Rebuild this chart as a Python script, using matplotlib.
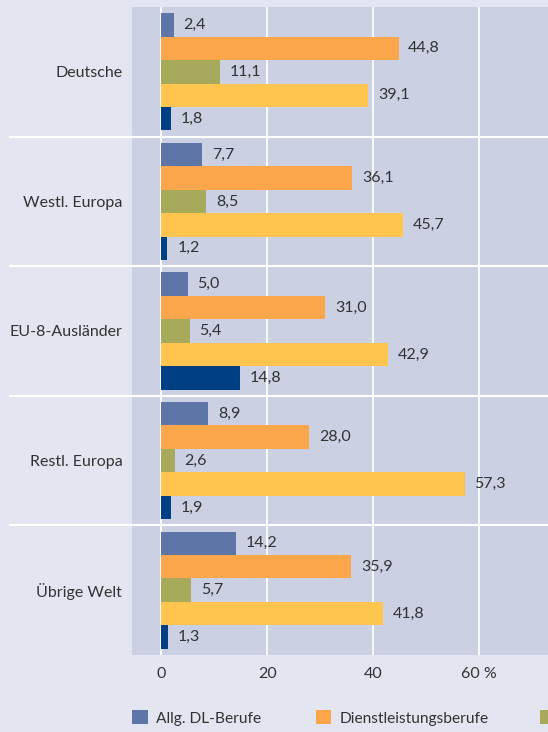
"""
Anteile der Berufsgruppen nach Herkunft
"""

import matplotlib.pyplot as plt
from matplotlib.patches import Patch
import numpy as np

plt.rcParams["font.family"] = ["Lato", "DejaVu Sans"]

groups = ["Deutsche", "Westl. Europa", "EU-8-Ausländer", "Restl. Europa", "Übrige Welt"]
series_names = ["Allg. DL-Berufe", "Dienstleistungsberufe", "Fertigungsberufe",
                "Sonstige Berufe", "Ohne Angabe"]

allg_dl = [2.4, 7.7, 5.0, 8.9, 14.2]
dienstleistung = [44.8, 36.1, 31.0, 28.0, 35.9]
fertigung = [11.1, 8.5, 5.4, 2.6, 5.7]
sonstige = [39.1, 45.7, 42.9, 57.3, 41.8]
ohne_angabe = [1.8, 1.2, 14.8, 1.9, 1.3]

series = [allg_dl, dienstleistung, fertigung, sonstige, ohne_angabe]
colors = ["#5e75a8", "#fba64a", "#a7aa5a", "#ffc54f", "#003f84"]

text_color = "#333333"

fig = plt.figure(figsize=(5.48, 7.32), dpi=100, facecolor="#e3e5f0")
ax = fig.add_axes([132 / 548, 1 - 655 / 732, 453 / 548, 648 / 732])
ax.set_facecolor("#cbd0e3")

y = np.arange(len(groups))
bar_h = 0.181
for i, (vals, col) in enumerate(zip(series, colors)):
    bars = ax.barh(y + (i - 2) * bar_h, vals, height=bar_h, color=col, zorder=3)
    ax.bar_label(bars, labels=["{:.1f}".format(v).replace(".", ",") for v in vals],
                 padding=7, fontsize=11.5, color=text_color)

ax.set_xlim(-5.5, 80)
ax.set_ylim(len(groups) - 0.5, -0.5)

# the 80 line sits past the right edge, so it gets no label
ax.set_xticks([0, 20, 40, 60, 80])
ax.set_xticklabels(["0", "20", "40", "60 %", ""])
ax.set_yticks(y)
ax.set_yticklabels(groups)
ax.tick_params(axis="both", length=0, labelsize=11.5, labelcolor=text_color)
ax.tick_params(axis="x", pad=9)
ax.tick_params(axis="y", pad=7)

ax.grid(axis="x", color="white", linewidth=1.3, zorder=1)
for sep in y[:-1] + 0.5:
    ax.axhline(sep, xmin=-122 / 453, xmax=1, color="white", linewidth=1.5,
               clip_on=False, zorder=2)

for s in ax.spines.values():
    s.set_visible(False)

# legend row; only the first entries fit on the page
legend_kw = dict(loc="center left", frameon=False, fontsize=11.2, labelcolor=text_color,
                 handlelength=1.0, handleheight=1.0, handletextpad=0.55,
                 borderaxespad=0, borderpad=0)
handles = [Patch(facecolor=c, edgecolor="none") for c in colors]
fig.legend(handles[:2], series_names[:2], ncol=2, columnspacing=3.5,
           bbox_to_anchor=(132 / 548, 1 - 718 / 732), **legend_kw)
fig.legend(handles[2:3], [""], bbox_to_anchor=(540 / 548, 1 - 718 / 732), **legend_kw)

fig.savefig("out.png", dpi=100, facecolor=fig.get_facecolor())
